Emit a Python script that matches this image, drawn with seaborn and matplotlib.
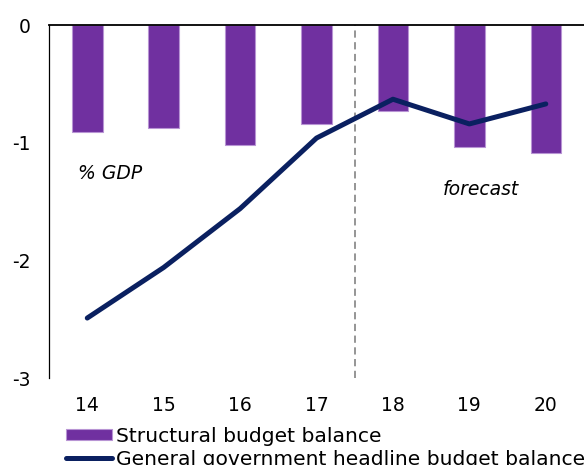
import numpy as np
import pandas as pd
import matplotlib
matplotlib.use("Agg")
import matplotlib.pyplot as plt
import seaborn as sns

years = ["14", "15", "16", "17", "18", "19", "20"]
structural = [-0.91, -0.875, -1.02, -0.84, -0.73, -1.04, -1.09]
headline = [-2.49, -2.06, -1.56, -0.96, -0.63, -0.84, -0.67]
yticks = [0, -1, -2, -3]

bar_col = "#7030a0"
line_col = "#0a2060"

df = pd.DataFrame({"year": years, "structural": structural, "headline": headline})

sns.set_style("white")
plt.rcParams["font.family"] = ["DejaVu Sans"]
plt.rcParams["text.color"] = "black"
plt.rcParams["xtick.color"] = "black"
plt.rcParams["ytick.color"] = "black"

fig = plt.figure(figsize=(5.84, 4.65), dpi=100)
ax = fig.add_axes([0.084, 0.187, 0.916, 0.759])

sns.barplot(data=df, x="year", y="structural", color=bar_col, saturation=1,
            width=0.4, edgecolor="#b894d4", linewidth=0.8, ax=ax,
            label="Structural budget balance")
sns.lineplot(data=df, x="year", y="headline", color=line_col, linewidth=3.6,
             solid_capstyle="round", ax=ax,
             label="General government headline budget balance")

# forecast divider
ax.axvline(3.5, color="#8c8c8c", linestyle=(0, (4, 2.5)), linewidth=1.3, zorder=1)

ax.set_xlim(-0.5, 6.5)
ax.set_ylim(-3, 0)
ax.set_yticks(yticks)
ax.set_yticklabels([str(t) for t in yticks])
ax.set_xlabel("")
ax.set_ylabel("")
ax.tick_params(axis="both", length=0, labelsize=13.5)
ax.tick_params(axis="x", pad=13)
ax.tick_params(axis="y", pad=13)

for side in ["right", "bottom"]:
    ax.spines[side].set_visible(False)
ax.spines["left"].set_color("black")
ax.spines["left"].set_linewidth(0.9)
ax.spines["top"].set_color("black")
ax.spines["top"].set_linewidth(1.3)

ax.text(0.3, -1.26, "% GDP", style="italic", fontsize=13.5, ha="center", va="center")
ax.text(5.15, -1.4, "forecast", style="italic", fontsize=13.5, ha="center", va="center")

handles, labels = ax.get_legend_handles_labels()
if ax.legend_:
    ax.legend_.remove()
order = [labels.index("Structural budget balance"),
         labels.index("General government headline budget balance")]
fig.legend([handles[i] for i in order], [labels[i] for i in order],
           loc="upper left", bbox_to_anchor=(0.113, 0.082),
           frameon=False, fontsize=14.6, handlelength=2.25, handleheight=0.5,
           handletextpad=0.2, labelspacing=0.18, borderaxespad=0, borderpad=0)

fig.savefig("out.png", dpi=100)
